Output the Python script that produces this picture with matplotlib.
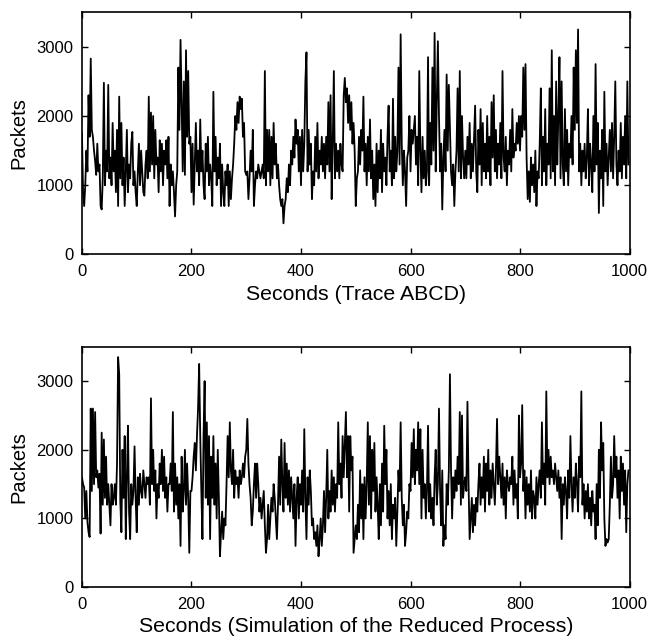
import matplotlib
matplotlib.use("Agg")
import matplotlib.pyplot as plt
import numpy as np

plt.rcParams['font.family'] = ['Liberation Sans', 'DejaVu Sans']

# sample times (seconds), every 2 s
seconds = np.arange(0, 1000, 2)

trace_abcd = [
    1750, 900, 700, 1000, 1500, 1200, 2300, 1700, 2830, 1800,
    1700, 1500, 1350, 1150, 1600, 1200, 1300, 700, 650, 1100,
    2480, 1000, 1500, 1200, 2450, 1100, 1400, 1000, 1900, 1200,
    1500, 900, 1800, 700, 2280, 1100, 1900, 1000, 1400, 700,
    1200, 1800, 900, 1300, 1100, 1600, 1770, 1000, 1200, 900,
    700, 1200, 1600, 1000, 1500, 1200, 900, 850, 1300, 1500,
    1100, 2280, 1200, 2050, 1300, 2000, 1100, 1800, 1300, 1400,
    900, 1650, 1200, 1600, 1000, 1500, 1300, 1650, 1100, 1700,
    700, 1300, 1000, 1200, 900, 550, 1000, 1200, 2700, 1800,
    3100, 2200, 1200, 2500, 1150, 2950, 1700, 2650, 1600, 1700,
    900, 1600, 720, 1300, 1900, 1200, 1500, 1000, 1950, 1200,
    1500, 1000, 800, 1600, 1200, 1700, 1000, 1300, 1100, 700,
    2350, 1200, 1700, 1000, 1400, 1100, 1600, 700, 1300, 900,
    700, 1200, 1000, 1300, 700, 1200, 800, 1100, 1300, 1600,
    2000, 1800, 2200, 1900, 2280, 2100, 2250, 1700, 1900, 1200,
    1150, 1200, 800, 1100, 1500, 1200, 1800, 700, 1000, 1200,
    1100, 1300, 1200, 1100, 1200, 1300, 1100, 2650, 1000, 1800,
    1200, 1800, 1000, 1700, 1100, 1900, 1300, 1600, 1100, 1300,
    1000, 800, 700, 800, 450, 700, 800, 1100, 900, 1300,
    1000, 1500, 1300, 1700, 1400, 1950, 1600, 1800, 1200, 1700,
    1000, 1800, 1200, 1600, 2500, 2920, 1200, 1800, 1300, 1600,
    800, 1200, 1000, 1700, 1200, 1900, 1100, 1500, 1300, 1700,
    1200, 1600, 1100, 1700, 1300, 2200, 1200, 2300, 800, 1600,
    2650, 1100, 1600, 1200, 1500, 1100, 1600, 1300, 1200, 2300,
    2550, 2200, 2400, 1900, 2300, 1800, 2200, 1600, 1900, 1500,
    700, 1100, 1200, 1700, 1300, 1800, 1500, 2280, 1200, 1600,
    1000, 1700, 1200, 1950, 1100, 1500, 800, 1300, 700, 1600,
    900, 1500, 1100, 1800, 900, 1600, 1200, 1400, 1000, 1700,
    2150, 1200, 1500, 1000, 2250, 1100, 1700, 1200, 1500, 2700,
    1300, 3180, 1600, 1000, 1500, 1200, 700, 1400, 1500, 2000,
    1200, 1800, 1600, 1800, 2000, 1300, 1700, 1000, 2650, 1500,
    900, 1700, 1100, 1500, 1000, 1200, 2850, 1000, 1900, 1300,
    2700, 1500, 3200, 1200, 2200, 3080, 2000, 1200, 1600, 650,
    1400, 1800, 1200, 2600, 1500, 2450, 1800, 1200, 1000, 1300,
    700, 1200, 1500, 2400, 1200, 2650, 1100, 2000, 1400, 1100,
    1500, 1100, 1700, 1300, 1900, 1100, 1600, 1200, 1700, 2150,
    1200, 900, 1800, 1300, 2100, 1000, 1900, 1200, 1600, 1100,
    2000, 1200, 1700, 1000, 2200, 1400, 2300, 1200, 1800, 1100,
    1600, 1300, 1900, 1100, 2650, 1400, 1200, 1700, 1000, 1500,
    1300, 1800, 1200, 2100, 1400, 1600, 1500, 1900, 1600, 2000,
    1500, 2000, 1700, 2700, 1800, 2750, 1400, 800, 1200, 760,
    1400, 1000, 1300, 900, 1500, 700, 1200, 1100, 1600, 2400,
    1000, 1700, 1200, 2100, 1000, 1600, 1300, 2400, 1100, 2950,
    1200, 2000, 1000, 2500, 1300, 2000, 2850, 1100, 2500, 1300,
    1000, 2100, 1200, 1800, 1000, 1600, 1400, 2000, 1300, 2700,
    1800, 2950, 1900, 3250, 1200, 1600, 1000, 1500, 1200, 1600,
    1100, 1400, 2100, 1000, 1600, 1300, 900, 2000, 1200, 2750,
    1300, 1900, 600, 1500, 1100, 1800, 700, 2350, 1200, 1600,
    1000, 1400, 1800, 1200, 1900, 1100, 1700, 2500, 1300, 1000,
    1500, 1200, 1900, 1100, 1700, 1300, 2000, 1100, 2500, 1300,
]

reduced_sim = [
    1600, 1500, 1450, 1000, 1400, 950, 800, 730, 2600, 1400,
    2600, 1500, 2550, 1600, 1700, 1450, 1650, 780, 2250, 1200,
    2150, 1300, 1900, 1200, 1500, 1200, 900, 1500, 1200, 1300,
    1500, 1200, 1800, 3350, 3100, 1250, 800, 2000, 1300, 2200,
    700, 1600, 2350, 1100, 700, 1500, 1200, 1400, 2050, 1300,
    800, 1600, 1200, 1650, 1400, 1300, 1700, 1500, 1300, 1600,
    1500, 1600, 1200, 2750, 1500, 2000, 1400, 1700, 1000, 1500,
    1300, 1800, 1500, 2000, 1400, 1900, 1300, 1600, 1100, 1500,
    1500, 1800, 1400, 2550, 1100, 1800, 1200, 1600, 1000, 1500,
    600, 1900, 1100, 1400, 2000, 1200, 1800, 1300, 500, 1400,
    1400, 1600, 1900, 2100, 1700, 2200, 2600, 3250, 2200, 1400,
    700, 2200, 3000, 1300, 2400, 1200, 2200, 700, 1900, 1300,
    2200, 1200, 1800, 1000, 2000, 1300, 450, 800, 1100, 700,
    1000, 900, 1500, 2200, 1600, 2400, 1700, 1500, 2000, 1300,
    1700, 1500, 1600, 1300, 1700, 1500, 1600, 1800, 1600, 1900,
    2000, 2450, 1800, 1500, 1300, 900, 1100, 1500, 1800, 1300,
    1800, 1500, 1100, 1300, 1000, 1200, 1400, 900, 500, 700,
    1200, 700, 1000, 1300, 1100, 1500, 1300, 1000, 700, 1200,
    1900, 1200, 2150, 1500, 1100, 2100, 1300, 1800, 1200, 1700,
    1100, 1600, 1300, 1000, 1500, 600, 1300, 1600, 1000, 1500,
    1200, 1700, 1100, 2300, 1300, 700, 1600, 1200, 1700, 1400,
    900, 1000, 700, 800, 600, 900, 450, 700, 1000, 600,
    900, 1400, 800, 1300, 2000, 1000, 1400, 1100, 1700, 1200,
    1600, 1100, 1500, 1300, 2400, 1500, 1800, 1300, 2200, 1600,
    2100, 2550, 1600, 2200, 1100, 2200, 1700, 1900, 500, 700,
    900, 700, 1200, 800, 1700, 1000, 1500, 700, 1600, 1000,
    1500, 2400, 1200, 2200, 1000, 2000, 1400, 2100, 1100, 1600,
    1200, 700, 1500, 900, 1800, 1100, 2350, 1500, 2000, 1000,
    1400, 900, 1500, 700, 1200, 1000, 1300, 600, 1100, 1700,
    1400, 2400, 1300, 900, 1200, 600, 800, 1100, 1000, 1500,
    1400, 2100, 1600, 2300, 1500, 2000, 1700, 2400, 1500, 2300,
    1000, 2000, 1300, 1500, 1000, 1400, 2350, 1100, 1500, 1000,
    1300, 900, 1600, 2000, 1200, 1500, 2600, 1400, 900, 1700,
    600, 900, 700, 1500, 1200, 1700, 3100, 1700, 1000, 1600,
    1300, 1700, 1400, 1900, 1500, 2550, 1200, 2500, 1300, 1500,
    1600, 1400, 2700, 1500, 700, 1000, 1300, 800, 1200, 900,
    1300, 1100, 1500, 1800, 1200, 1600, 1300, 1900, 1100, 1800,
    1400, 2000, 1200, 1700, 1300, 1800, 1500, 1200, 1700, 2450,
    1500, 1900, 1600, 1300, 1800, 1200, 1600, 1000, 1700, 1500,
    1400, 1600, 1500, 1900, 1200, 1700, 1300, 1500, 1000, 2500,
    1600, 1800, 2650, 1400, 1700, 1000, 1600, 1200, 1500, 1100,
    1700, 1000, 1400, 1300, 1000, 1600, 1200, 1500, 1700, 1300,
    2400, 1500, 1800, 1200, 2850, 1600, 2000, 1500, 1900, 1600,
    1700, 1500, 1800, 1600, 1400, 1700, 1300, 1600, 700, 1500,
    1200, 1600, 1400, 1000, 1700, 1300, 2200, 1500, 1100, 1600,
    1300, 1800, 1500, 1100, 1900, 1600, 2850, 1200, 1500, 1000,
    1400, 1100, 1500, 1000, 1300, 900, 1400, 1100, 1200, 700,
    1500, 900, 2000, 1300, 2400, 1700, 2100, 1000, 600, 700,
    650, 700, 1200, 1900, 1300, 1500, 2200, 1600, 1900, 1300,
    1700, 1000, 1900, 1400, 1800, 1200, 1700, 800, 1500, 1700,
]

x_ticks = [0, 200, 400, 600, 800, 1000]
y_ticks = [0, 1000, 2000, 3000]
y_label = "Packets"
x_label_top = "Seconds (Trace ABCD)"
x_label_bottom = "Seconds (Simulation of the Reduced Process)"

fig = plt.figure(figsize=(6.48, 6.41), dpi=100)
ax1 = fig.add_axes([0.1265, 0.603, 0.845, 0.378])
ax2 = fig.add_axes([0.1265, 0.084, 0.845, 0.375])

for ax, data, xl in [(ax1, trace_abcd, x_label_top), (ax2, reduced_sim, x_label_bottom)]:
    ax.plot(seconds, data, color='black', linewidth=1.3)
    ax.set_xlim(0, 1000)
    ax.set_ylim(0, 3500)
    ax.set_xticks(x_ticks)
    ax.set_yticks(y_ticks)
    ax.tick_params(direction='in', top=True, right=True, length=4, width=1,
                   labelsize=12)
    ax.tick_params(axis='x', pad=7)
    ax.tick_params(axis='y', pad=6)
    ax.set_ylabel(y_label, fontsize=14.5, labelpad=6)
    ax.set_xlabel(xl, fontsize=15.3, labelpad=4)
    for s in ax.spines.values():
        s.set_linewidth(1.2)

fig.savefig("out.png", dpi=100)
